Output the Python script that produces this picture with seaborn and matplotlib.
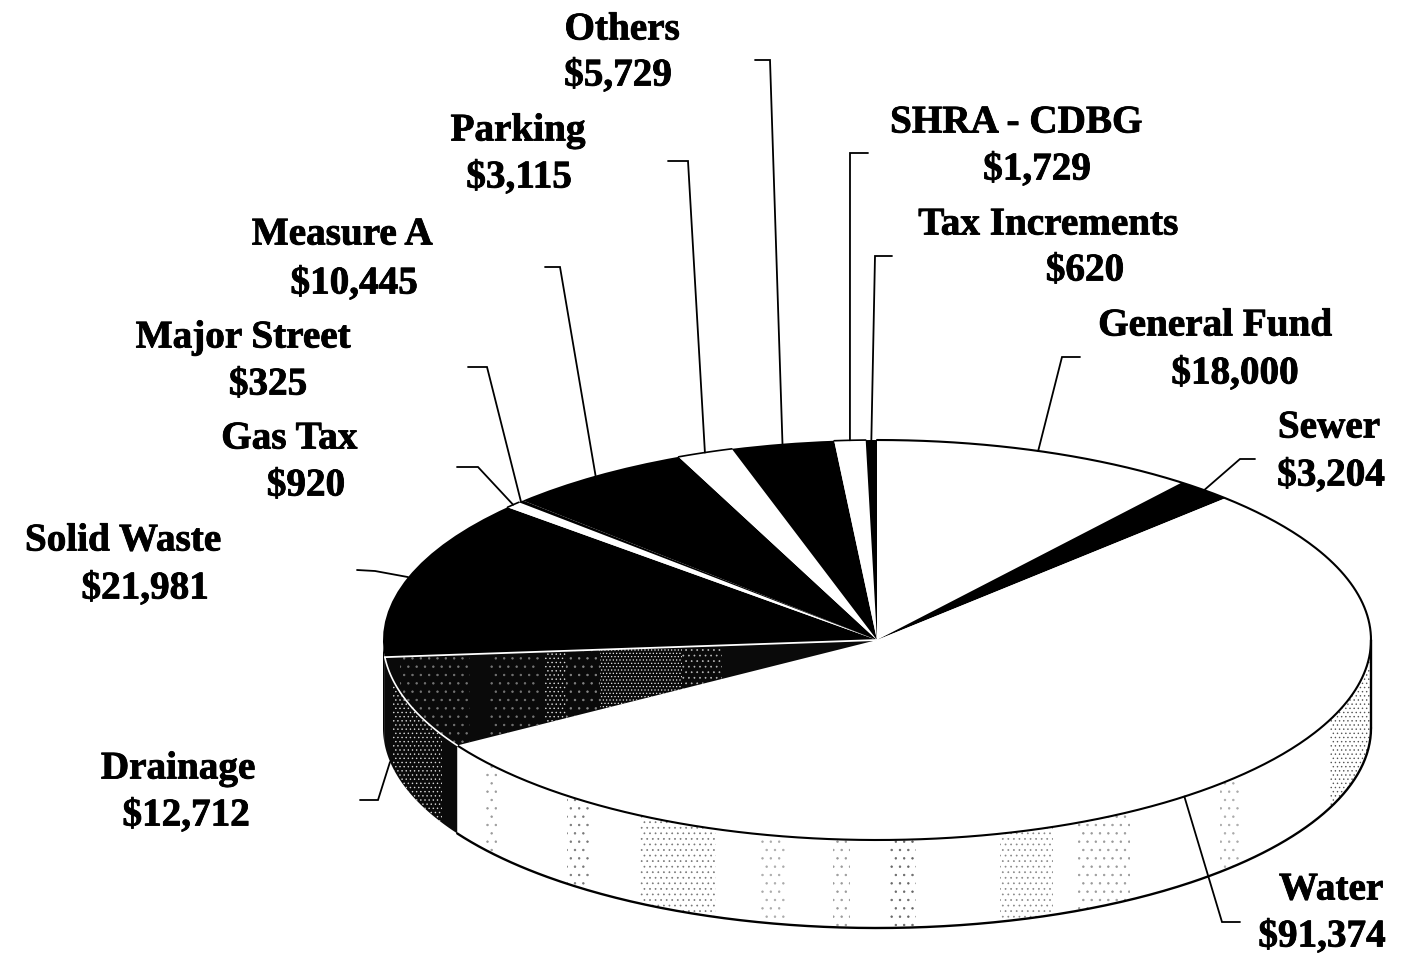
import numpy as np
import matplotlib
matplotlib.use("Agg")
import matplotlib.pyplot as plt
import matplotlib.patheffects as pe
import seaborn as sns

# Data, clockwise from the top of the pie
funds = ["General Fund", "Sewer", "Water", "Drainage", "Solid Waste", "Gas Tax",
         "Major Street", "Measure A", "Parking", "Others", "SHRA - CDBG",
         "Tax Increments"]
amounts = [18000, 3204, 91374, 12712, 21981, 920, 325, 10445, 3115, 5729, 1729, 620]
amount_labels = ["$18,000", "$3,204", "$91,374", "$12,712", "$21,981", "$920",
                 "$325", "$10,445", "$3,115", "$5,729", "$1,729", "$620"]
slice_colors = ["white", "black", "white", "#0a0a0a", "black", "white",
                "black", "black", "white", "black", "white", "black"]

# Layout in image pixels
W, H = 1402, 961
CX, CY, RX, RY, DEPTH = 877, 640, 494, 200, 88
name_pos = [(1215, 326), (1329, 428), (1331, 890), (178, 769), (123, 541), (289, 439),
            (243, 338), (342, 235), (518, 131), (622, 30), (1016, 123), (1048, 225)]
value_pos = [(1235, 374), (1331, 476), (1322, 937), (186, 816), (145, 589), (306, 486),
             (268, 385), (354, 284), (519, 178), (618, 76), (1037, 170), (1085, 271)]
elbows = [(1062, 357), (1240, 459), (1222, 922), (378, 800), (375, 571), (478, 467),
          (487, 367), (560, 267), (688, 161), (770, 60), (850, 153), (875, 256)]
line_ends = [(1080, 357), (1255, 459), (1240, 922), (360, 800), (357, 570), (457, 467),
             (468, 367), (545, 267), (668, 161), (755, 60), (868, 153), (892, 256)]
# stippled strips, x range in pixels, hatch and dot colour
water_strips = [(486, 497, "..", "#999999"), (567, 590, "..", "#777777"),
                (640, 716, "...", "#777777"), (760, 785, "..", "#aaaaaa"),
                (833, 850, "..", "#999999"), (889, 916, "..", "#666666"),
                (1000, 1053, "...", "#888888"), (1078, 1130, "..", "#999999"),
                (1220, 1240, "..", "#aaaaaa"), (1330, 1372, "....", "#555555")]
drain_strips = [(400, 470, "..", "#777777"), (490, 540, "..", "#777777"),
                (545, 566, "....", "#dddddd"), (566, 600, "..", "#888888"),
                (600, 682, ".....", "#e8e8e8"), (682, 722, "...", "#bbbbbb")]
drain_side_strips = [(393, 442, "....", "#d8d8d8")]


def ux(x):
    return (np.asarray(x, dtype=float) - CX) / RX


def uy(y):
    return (CY - np.asarray(y, dtype=float)) / RY


sns.set_theme(style="white")
plt.rcParams["font.family"] = ["Liberation Serif", "DejaVu Serif"]
plt.rcParams["hatch.linewidth"] = 0.5

fig, ax = plt.subplots(figsize=(W / 100, H / 100), dpi=100)
ax.set_position([0, 0, 1, 1])

# slice limits in degrees clockwise from the top
shares = np.array(amounts) / np.sum(amounts) * 360
ends = np.cumsum(shares)
starts = ends - shares
mids = (starts + ends) / 2
d = DEPTH / RY


def side(a, b, color, edge="none", hatch=None, z=1):
    t = np.radians(np.linspace(a, b, 200))
    return ax.fill_between(np.sin(t), np.cos(t), np.cos(t) - d, facecolor=color,
                           edgecolor=edge, hatch=hatch, linewidth=0, zorder=z)


# Side wall of the visible half
side(90, ends[2], "white")
side(ends[2], ends[3], "#0a0a0a")
side(ends[3], 270, "black")
for x0, x1, h, c in water_strips:
    a = max(90, 180 - np.degrees(np.arcsin(min(ux(x1), 1))))
    b = 180 - np.degrees(np.arcsin(ux(x0)))
    side(a, b, "none", c, h, 1.5)

wedges, _ = ax.pie(amounts, colors=slice_colors, startangle=90, counterclock=False,
                   wedgeprops={"linewidth": 0, "zorder": 3})
ax.set_aspect("auto")
ax.set_xlim(ux(0), ux(W))
ax.set_ylim(uy(H), uy(0))
ax.axis("off")

# Stippling on the drainage slice, top face and wall
for x0, x1, h, c in drain_strips:
    s = ax.axvspan(ux(x0), ux(x1), facecolor="none", edgecolor=c, hatch=h,
                   linewidth=0, zorder=4)
    s.set_clip_path(wedges[3])
for x0, x1, h, c in drain_side_strips:
    a = 180 - np.degrees(np.arcsin(ux(x1)))
    b = 180 - np.degrees(np.arcsin(ux(x0)))
    side(max(a, ends[2]), min(b, ends[3]), "none", c, h, 2)

# Outlines
t = np.radians(np.linspace(0, ends[2], 400))
ax.plot(np.sin(t), np.cos(t), color="black", lw=1.5, zorder=5)
t = np.radians(np.linspace(90, ends[2], 300))
ax.plot(np.sin(t), np.cos(t) - d, color="black", lw=1.7, zorder=5)
ax.plot([1, 1], [0, -d], color="black", lw=1.7, zorder=5)
t = np.radians(np.linspace(ends[2], ends[3], 60))
ax.plot(np.sin(t), np.cos(t), color="white", lw=1.2, zorder=5)
a = np.radians(ends[3])
ax.plot([0, np.sin(a)], [0, np.cos(a)], color="white", lw=1.3, zorder=5)
# rim of the white slices at the back
for i in [5, 8, 10]:
    t = np.radians(np.linspace(starts[i], ends[i], 40))
    ax.plot(np.sin(t), np.cos(t), color="black", lw=1.2, zorder=5)

# Leader lines and labels
heavy = [pe.withStroke(linewidth=0.6, foreground="black")]
for i, name in enumerate(funds):
    a = np.radians(mids[i])
    rim_x, rim_y = np.sin(a), np.cos(a)
    if name == "Drainage":
        rim_x, rim_y = ux(390), uy(762)
    ax.plot([rim_x, ux(elbows[i][0]), ux(line_ends[i][0])],
            [rim_y, uy(elbows[i][1]), uy(line_ends[i][1])],
            color="black", lw=1.3, zorder=6, solid_joinstyle="miter")
    ax.text(ux(name_pos[i][0]), uy(name_pos[i][1]), name, ha="center", va="center",
            fontsize=28.2, fontweight="bold", color="black", zorder=7, path_effects=heavy)
    ax.text(ux(value_pos[i][0]), uy(value_pos[i][1]), amount_labels[i], ha="center",
            va="center", fontsize=28.2, fontweight="bold", color="black", zorder=7,
            path_effects=heavy)

fig.savefig("out.png", dpi=100, facecolor="white")
